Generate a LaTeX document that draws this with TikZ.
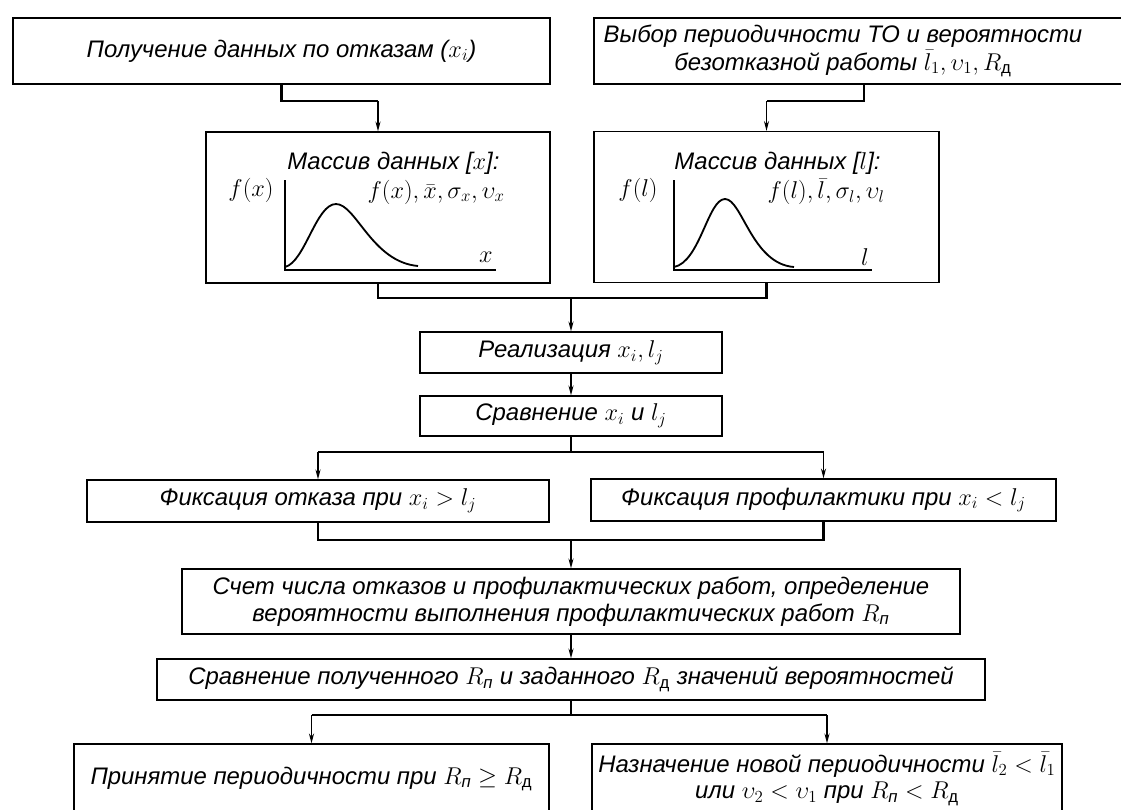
\documentclass[tikz,border=0pt]{standalone}
\usepackage{amsmath,amssymb}
\usepackage{fontspec}
\setmainfont{Liberation Sans}
\usepackage{tikz}
\usetikzlibrary{arrows.meta}
\newcommand{\Rp}{R_{\text{п}}}
\newcommand{\Rd}{R_{\text{\upshape д}}}

\begin{document}
\begin{tikzpicture}[x=0.025cm, y=-0.025cm, >={Stealth[length=7pt,width=3.6pt]},
    blk/.style={draw, line width=0.9pt, inner sep=0pt, align=center,
      font=\fontsize{17}{19}\selectfont\itshape},
    lbl/.style={inner sep=0pt, font=\fontsize{17}{19}\selectfont\itshape},
    bracket/.style={line width=1.8pt},
    feed/.style={->, line width=1pt}]
    \useasboundingbox (0,0) rectangle (1121,810);

    \coordinate (lvlA) at (0,101);
    \coordinate (lvlB) at (0,298);
    \coordinate (lvlC) at (0,452);
    \coordinate (lvlD) at (0,540);
    \coordinate (lvlE) at (0,715);

    \node[blk, minimum width=13.425cm, minimum height=1.65cm] (poluch) at (281.5,51)
      {Получение данных по отказам ($x_i$)};
    \node[blk, minimum width=13.5cm, minimum height=1.65cm] (vybor) at (864,51) {};
    \node[lbl, align=center, font=\fontsize{17}{20}\selectfont\itshape] (vyborT) at (843,51)
      {Выбор периодичности ТО и вероятности\\
       безотказной работы $\bar{l}_1,\upsilon_1,\Rd$};

    \node[blk, minimum width=8.6cm, minimum height=3.775cm] (massX) at (378,207.5) {};
    \node[blk, minimum width=8.625cm, minimum height=3.775cm] (massL) at (766.5,207) {};

    % graph x
    \draw[line width=0.8pt] (285,180) -- (285,270) -- (496,270);
    \draw[line width=1.3pt] (285,267) .. controls (305,262) and (316,204) .. (336,204)
      .. controls (356,204) and (372,262) .. (418,266);
    \node[lbl, anchor=west] (titleX) at (287,163) {Массив данных [$x$]:};
    \node[lbl, anchor=east] (statX) at (505,192) {$f(x),\bar{x},\sigma_x,\upsilon_x$};
    \node[lbl] (fX) at (251,190) {$f(x)$};
    \node[lbl] (axX) at (486,257) {$x$};

    % graph l
    \draw[line width=0.8pt] (674,180) -- (674,270) -- (872,270);
    \draw[line width=1.3pt] (674,267) .. controls (700,262) and (708,199) .. (725,199)
      .. controls (742,199) and (752,264) .. (794,267);
    \node[lbl, anchor=west] (titleL) at (674,163) {Массив данных [$l$]:};
    \node[lbl, anchor=east] (statL) at (885,192) {$f(l),\bar{l},\sigma_l,\upsilon_l$};
    \node[lbl] (fL) at (638,190) {$f(l)$};
    \node[lbl] (axL) at (865,257) {$l$};

    \node[blk, minimum width=7.55cm, minimum height=1.025cm] (realiz) at (571,352.5)
      {Реализация $x_i,l_j$};
    \node[blk, minimum width=7.55cm, minimum height=1cm] (sravn) at (571,416)
      {Сравнение $x_i$ и $l_j$};
    \node[blk, minimum width=11.55cm, minimum height=1.05cm] (fixOtk) at (318,501)
      {Фиксация отказа при $x_i>l_j$};
    \node[blk, minimum width=11.625cm, minimum height=1.05cm] (fixProf) at (823.5,500)
      {Фиксация профилактики при $x_i<l_j$};
    \node[blk, minimum width=19.45cm, minimum height=1.625cm] (schet) at (571,601.5)
      {Счет числа отказов и профилактических работ, определение\\
       вероятности выполнения профилактических работ $\Rp$};
    \node[blk, minimum width=20.7cm, minimum height=1.025cm] (sravnR) at (571,679.5)
      {Сравнение полученного $\Rp$ и заданного $\Rd$ значений вероятностей};
    \node[blk, minimum width=11.875cm, minimum height=1.75cm] (prin) at (311.5,779)
      {Принятие периодичности при $\Rp\geq\Rd$};
    \node[blk, minimum width=11.75cm, minimum height=1.75cm] (nazn) at (827,779)
      {Назначение новой периодичности $\bar{l}_2<\bar{l}_1$\\
       или $\upsilon_2<\upsilon_1$ при $\Rp<\Rd$};

    % connectors
    \draw[bracket] (poluch.south) |- (massX.north |- lvlA);
    \draw[feed] (massX.north |- lvlA) -- (massX.north);
    \draw[bracket] (vybor.south) |- (massL.north |- lvlA);
    \draw[feed] (massL.north |- lvlA) -- (massL.north);

    \draw[bracket] (massX.south) |- (massL.south |- lvlB) -- (massL.south);
    \draw[feed] (realiz.north |- lvlB) -- (realiz.north);
    \draw[feed] (realiz) -- (sravn);

    \draw[bracket] (sravn.south) -- (sravn.south |- lvlC);
    \draw[bracket] (fixOtk.north |- lvlC) -- (fixProf.north |- lvlC);
    \draw[feed] (fixOtk.north |- lvlC) -- (fixOtk.north);
    \draw[feed] (fixProf.north |- lvlC) -- (fixProf.north);

    \draw[bracket] (fixOtk.south) |- (fixProf.south |- lvlD) -- (fixProf.south);
    \draw[feed] (schet.north |- lvlD) -- (schet.north);
    \draw[feed] (schet) -- (sravnR);

    \draw[bracket] (sravnR.south) -- (sravnR.south |- lvlE);
    \draw[bracket] (prin.north |- lvlE) -- (nazn.north |- lvlE);
    \draw[feed] (prin.north |- lvlE) -- (prin.north);
    \draw[feed] (nazn.north |- lvlE) -- (nazn.north);
\end{tikzpicture}
\end{document}
